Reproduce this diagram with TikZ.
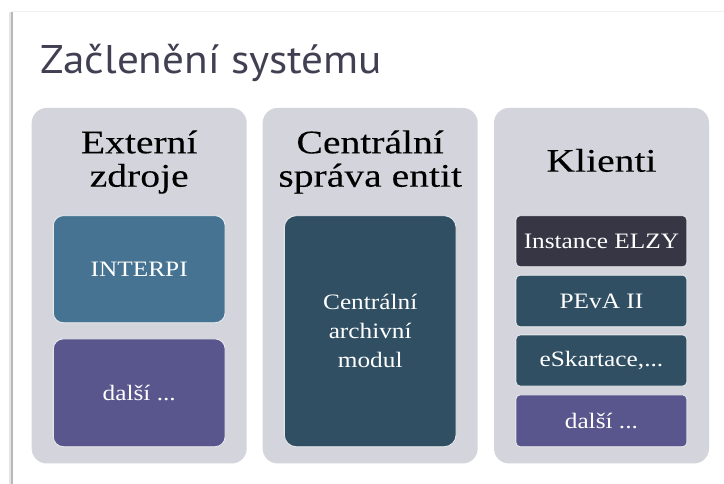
\documentclass[tikz,border=0pt]{standalone}
\usepackage{fontspec}
\setmainfont{Liberation Serif}
\newfontfamily\hdrfont[FakeStretch=1.2,FakeBold=0.12]{Liberation Serif}
\newfontfamily\boxfont[FakeStretch=1.15]{Liberation Serif}
\newfontfamily\titlefont[FakeStretch=1.08]{PT Sans}
\definecolor{panelgray}{RGB}{212,212,220}
\definecolor{titlecol}{RGB}{64,64,82}
\definecolor{steel}{RGB}{70,115,145}
\definecolor{purp}{RGB}{88,86,140}
\definecolor{darkteal}{RGB}{48,79,99}
\definecolor{darkslate}{RGB}{54,54,69}
\tikzset{
  panel/.style={fill=panelgray, rounded corners=15pt, minimum width=215pt, minimum height=355.5pt, inner sep=0pt, draw=none},
  ibox/.style={rounded corners=#1, draw=white, draw opacity=0.8, line width=0.8pt, text=white, inner sep=0pt, minimum width=171.7pt, align=center, font=\boxfont\fontsize{22}{29}\selectfont},
  ibox/.default=10pt,
  hdr/.style={font=\hdrfont\fontsize{33}{36}\selectfont, anchor=base, inner sep=0pt, text=black},
}
\begin{document}
\begin{tikzpicture}[x=1pt,y=-1pt]
\useasboundingbox[fill=white] (0,0) rectangle (724,484);
% slide frame
\draw[gray!12, line width=1pt] (12,12) -- (724,12);
\draw[gray!55, line width=2pt] (12,12) -- (12,484);
\draw[gray!20, line width=2pt] (10,12) -- (10,484);
% title
\node[anchor=base west, inner sep=0pt, text=titlecol, font=\titlefont\fontsize{40}{48}\selectfont] (title) at (40.7,73.3) {Začlenění systému};
% panels
\node[panel] (p1) at (139.2,285.7) {};
\node[panel] (p2) at (370.2,285.7) {};
\node[panel] (p3) at (601.5,285.7) {};
% headers
\node[hdr] (h1a) at (139.2,153.3) {Externí};
\node[hdr] (h1b) at (139.2,186.7) {zdroje};
\node[hdr] (h2a) at (370.2,153.3) {Centrální};
\node[hdr] (h2b) at (370.2,186.7) {správa entit};
\node[hdr] (h3a) at (601.5,171.7) {Klienti};
% panel 1 boxes
\node[ibox, fill=steel, minimum height=107pt] (interpi) at (139.2,269.2) {INTERPI};
\node[ibox, fill=purp, minimum height=107.7pt] (dalsi1) at (139.2,392.8) {další ...};
% panel 2 box
\node[ibox=12pt, fill=darkteal, minimum height=231pt] (cam) at (370.2,331.2) {Centrální\\archivní\\modul};
% panel 3 boxes
\node[ibox=4pt, fill=darkslate, minimum height=51pt, minimum width=170.7pt] (elzy) at (601.4,241.2) {Instance ELZY};
\node[ibox=4pt, fill=darkteal, minimum height=51.4pt, minimum width=170.7pt] (peva) at (601.4,301) {PEvA II};
\node[ibox=4pt, fill=darkteal, minimum height=51pt, minimum width=170.7pt] (eskart) at (601.4,360.5) {eSkartace,...};
\node[ibox=4pt, fill=purp, minimum height=51.7pt, minimum width=170.7pt] (dalsi3) at (601.4,420.8) {další ...};
\end{tikzpicture}
\end{document}
